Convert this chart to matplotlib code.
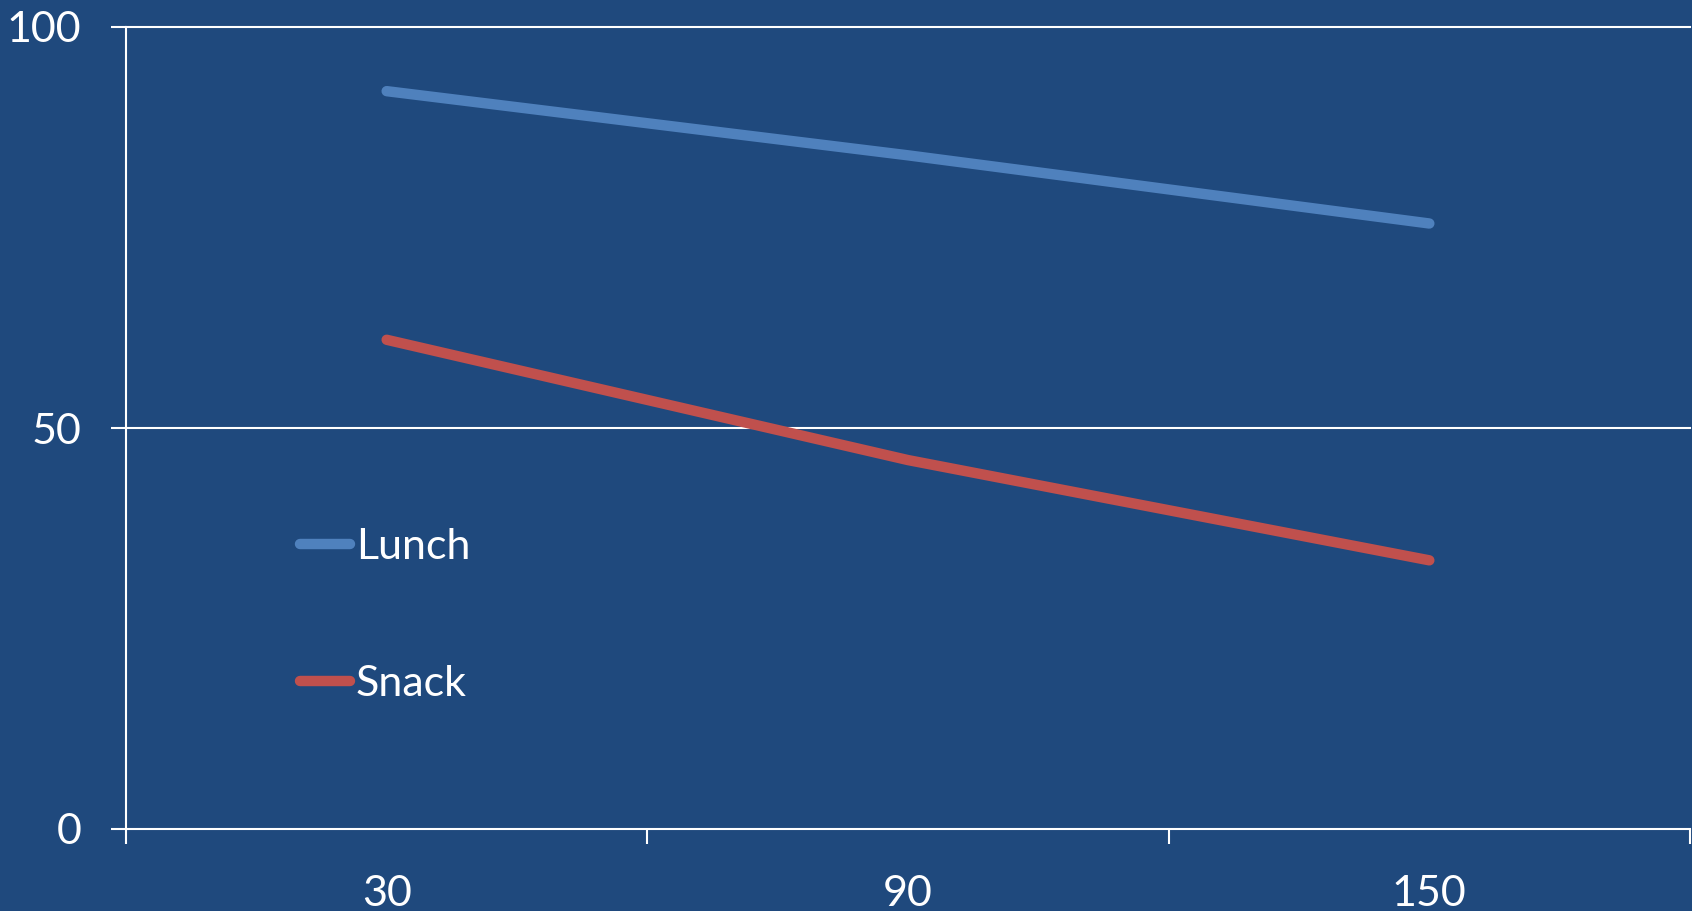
import matplotlib
matplotlib.use("Agg")
import matplotlib.pyplot as plt

# Chart data
categories = ["30", "90", "150"]
lunch = [92, 84, 75.5]
snack = [61, 46, 33.5]
y_ticks = [0, 50, 100]

BG = "#1F497D"
LUNCH_C = "#4F81BD"
SNACK_C = "#C0504D"

plt.rcParams["font.family"] = ["Lato", "DejaVu Sans"]

W, H = 1692, 911
fig = plt.figure(figsize=(W / 100, H / 100), dpi=100, facecolor=BG)
ax = fig.add_axes([126 / W, (H - 829) / H, (1690 - 126) / W, (829 - 27) / H])
ax.set_facecolor(BG)

x = list(range(len(categories)))
ax.plot(x, lunch, color=LUNCH_C, lw=7.5, solid_capstyle="round", label="Lunch", zorder=3)
ax.plot(x, snack, color=SNACK_C, lw=7.5, solid_capstyle="round", label="Snack", zorder=3)

ax.set_xlim(-0.5, len(categories) - 0.5)
ax.set_ylim(0, 100)

# Horizontal gridlines
for v in y_ticks:
    ax.axhline(v, color="white", lw=1.5, zorder=1, clip_on=False)

for s in ["top", "right", "bottom"]:
    ax.spines[s].set_visible(False)
ax.spines["left"].set_color("white")
ax.spines["left"].set_linewidth(1.5)

ax.set_yticks(y_ticks)
ax.set_yticklabels([str(v) for v in y_ticks])
ax.tick_params(axis="y", colors="white", length=11, width=1.5, pad=21, labelsize=31)

# Category labels centred, ticks on boundaries
ax.set_xticks(x)
ax.set_xticklabels(categories)
ax.tick_params(axis="x", which="major", length=0, colors="white", labelsize=31, pad=33)
ax.set_xticks([i - 0.5 for i in range(len(categories) + 1)], minor=True)
ax.tick_params(axis="x", which="minor", length=11, width=1.5, color="white", direction="out")

leg = ax.legend(loc="upper left", bbox_to_anchor=(300 / W, (H - 528) / H),
                bbox_transform=fig.transFigure, frameon=False, fontsize=31,
                handlelength=1.15, handletextpad=0.15, labelspacing=2.3,
                borderaxespad=0, borderpad=0)
for t in leg.get_texts():
    t.set_color("white")
for h in leg.get_lines():
    h.set_linewidth(7.5)
    h.set_solid_capstyle("round")

fig.savefig("out.png", dpi=100, facecolor=BG)
